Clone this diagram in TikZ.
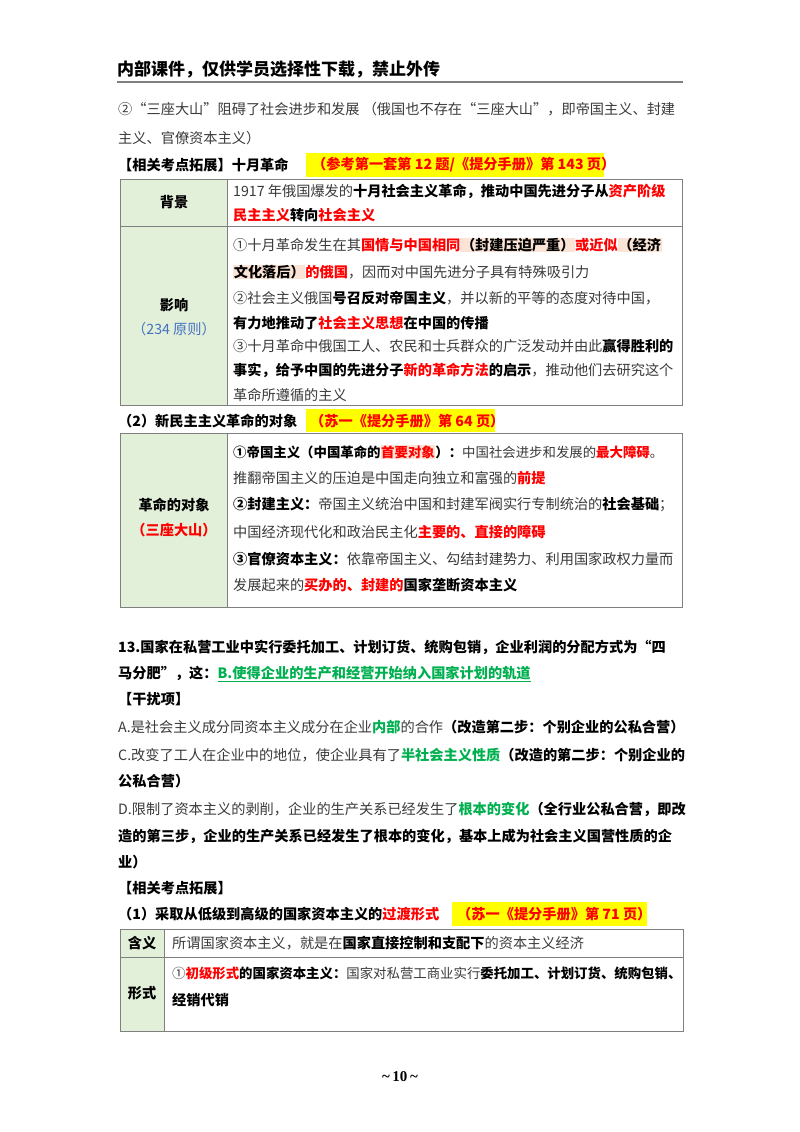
\documentclass[tikz,border=0pt]{standalone}
\usepackage{fontspec}
\setmainfont{Noto Sans CJK SC}
\setsansfont{Noto Sans CJK SC}
\newfontfamily\tnr{Liberation Serif}
\definecolor{txt}{HTML}{3A3A3A}
\definecolor{red1}{HTML}{FF0000}
\definecolor{grn}{HTML}{00B050}
\definecolor{blu}{HTML}{4472C4}
\definecolor{peach}{HTML}{FBE4D5}
\definecolor{hy}{HTML}{FFFF00}
\definecolor{lg}{HTML}{E2EFD9}
\definecolor{bd}{HTML}{7F7F7F}
\newcommand\rb[1]{\textbf{\color{red1}#1}}
\newcommand\bk[1]{\textbf{\color{black}#1}}
\newcommand\gb[1]{\textbf{\color{grn}#1}}
\newcommand\hlp[1]{{\setlength\fboxsep{0.6pt}\colorbox{peach}{#1}}}
\tikzset{
 ln/.style={anchor=west,inner sep=0pt,text=txt,font=\fontsize{14.2}{16}\selectfont},
 lns/.style={ln,font=\fontsize{13.4}{16}\selectfont},
 lab/.style={inner sep=0pt,text=black,font=\fontsize{14.2}{16}\selectfont\bfseries},
 hbox/.style={fill=hy,draw=none},
 cellL/.style={fill=lg,draw=bd,line width=1pt},
 cellR/.style={fill=white,draw=bd,line width=1pt}
}
\begin{document}
\begin{tikzpicture}[x=1pt,y=-1pt]
\useasboundingbox[fill=white] (0,0) rectangle (800,1132);
% header
\node[ln,text=black,font=\fontsize{17}{18}\selectfont\bfseries] (hd) at (117,69) {内部课件，仅供学员选择性下载，禁止外传};
\draw[line width=1.6pt,color=bd] (117,82) -- (683,82);
\node[ln] (p1) at (118,109) {②“三座大山”阻碍了社会进步和发展 （俄国也不存在“三座大山”，即帝国主义、封建};
\node[ln] (p2) at (118,138) {主义、官僚资本主义）};
\fill[hbox] (306,153) rectangle (604,177);
\node[ln,text=black] (t1) at (118,165) {\textbf{【相关考点拓展】十月革命}};
\node[ln] (t1r) at (312,165) {\rb{（参考第一套第 12 题/《提分手册》第 143 页）}};
% table 1
\draw[cellL] (120,179) rectangle (227,226);
\draw[cellR] (227,179) rectangle (682,226);
\draw[cellL] (120,226) rectangle (227,405);
\draw[cellR] (227,226) rectangle (682,405);
\node[lab] (bj) at (174,202) {背景};
\node[ln] (a1) at (233,191) {1917 年俄国爆发的\bk{十月社会主义革命，推动中国先进分子从}\rb{资产阶级}};
\node[ln] (a2) at (233,215) {\rb{民主主义}\bk{转向}\rb{社会主义}};
\node[lab] (yx) at (174,305) {影响};
\node[lab,text=blu,font=\fontsize{14.2}{16}\selectfont] (yz) at (174,329) {（234 原则）};
\node[ln] (b1) at (233,245) {①十月革命发生在其\rb{国情与中国相同}\hlp{\bk{（封建压迫严重）}}\rb{或近似}\hlp{\bk{（经济}}};
\node[ln] (b2) at (233,272) {\hlp{\bk{文化落后）}}\rb{的俄国}，因而对中国先进分子具有特殊吸引力};
\node[ln] (b3) at (233,298) {②社会主义俄国\bk{号召反对帝国主义}，并以新的平等的态度对待中国，};
\node[ln] (b4) at (233,323) {\bk{有力地推动了}\rb{社会主义思想}\bk{在中国的传播}};
\node[ln] (b5) at (233,346) {③十月革命中俄国工人、农民和士兵群众的广泛发动并由此\bk{赢得胜利的}};
\node[ln] (b6) at (233,370) {\bk{事实，给予中国的先进分子}\rb{新的革命方法}\bk{的启示}，推动他们去研究这个};
\node[ln] (b7) at (233,395) {革命所遵循的主义};
% section 2
\fill[hbox] (306,409) rectangle (495,432);
\node[ln,text=black] (s2) at (118,421) {\textbf{（2）新民主主义革命的对象}};
\node[ln] (s2r) at (310,421) {\rb{（苏一《提分手册》第 64 页）}};
\draw[cellL] (120,433) rectangle (227,607);
\draw[cellR] (227,433) rectangle (682,607);
\node[lab] (dx) at (174,505) {革命的对象};
\node[lab,text=red1] (sz) at (174,530) {（三座大山）};
\node[lns] (c1) at (233,452) {\bk{①帝国主义（中国革命的}\hlp{\rb{首要对象}}\bk{）：}中国社会进步和发展的\rb{最大障碍}。};
\node[ln] (c2) at (233,478) {推翻帝国主义的压迫是中国走向独立和富强的\rb{前提}};
\node[ln] (c3) at (233,505) {\bk{②封建主义：}帝国主义统治中国和封建军阀实行专制统治的\bk{社会基础}；};
\node[ln] (c4) at (233,532) {中国经济现代化和政治民主化\rb{主要的、直接的障碍}};
\node[ln] (c5) at (233,559) {\bk{③官僚资本主义：}依靠帝国主义、勾结封建势力、利用国家政权力量而};
\node[ln] (c6) at (233,585) {发展起来的\rb{买办的、封建的}\bk{国家垄断资本主义}};
% question 13
\node[ln,text=black] (q1) at (118,647) {\textbf{13.国家在私营工业中实行委托加工、计划订货、统购包销，企业利润的分配方式为“四}};
\node[ln,text=black] (q2) at (118,674) {\textbf{马分肥”，这：}\gb{\underline{B.使得企业的生产和经营开始纳入国家计划的轨道}}};
\node[ln,text=black] (q3) at (118,699) {\textbf{【干扰项】}};
\node[ln] (qa) at (118,727) {A.是社会主义成分同资本主义成分在企业\gb{内部}的合作\bk{（改造第二步：个别企业的公私合营）}};
\node[ln] (qc) at (118,755) {C.改变了工人在企业中的地位，使企业具有了\gb{半社会主义性质}\bk{（改造的第二步：个别企业的}};
\node[ln] (qc2) at (118,781) {\bk{公私合营）}};
\node[ln] (qd) at (118,809) {D.限制了资本主义的剥削，企业的生产关系已经发生了\gb{根本的变化}\bk{（全行业公私合营，即改}};
\node[ln] (qd2) at (118,836) {\bk{造的第三步，企业的生产关系已经发生了根本的变化，基本上成为社会主义国营性质的企}};
\node[ln] (qd3) at (118,862) {\bk{业）}};
\node[ln,text=black] (e1) at (118,888) {\textbf{【相关考点拓展】}};
\fill[hbox] (452,902) rectangle (647,926);
\node[ln,text=black] (e2) at (118,914) {\textbf{（1）采取从低级到高级的国家资本主义的}\rb{过渡形式}};
\node[ln] (e2r) at (457,914) {\rb{（苏一《提分手册》第 71 页）}};
% table 3
\draw[cellL] (120,929) rectangle (164,957);
\draw[cellR] (164,929) rectangle (683,957);
\draw[cellL] (120,957) rectangle (164,1031);
\draw[cellR] (164,957) rectangle (683,1031);
\node[lab] (hy) at (142,943) {含义};
\node[lab] (xs) at (142,993) {形式};
\node[ln] (f1) at (172,943) {所谓国家资本主义，就是在\bk{国家直接控制和支配下}的资本主义经济};
\node[lns] (f2) at (172,973) {①\rb{初级形式}\bk{的国家资本主义：}国家对私营工商业实行\bk{委托加工、计划订货、统购包销、}};
\node[ln] (f3) at (172,1000) {\bk{经销代销}};
\node[inner sep=0pt,font=\tnr\fontsize{15}{16}\selectfont\bfseries] (pg) at (400,1077) {\textasciitilde\,10\,\textasciitilde};
\end{tikzpicture}
\end{document}
